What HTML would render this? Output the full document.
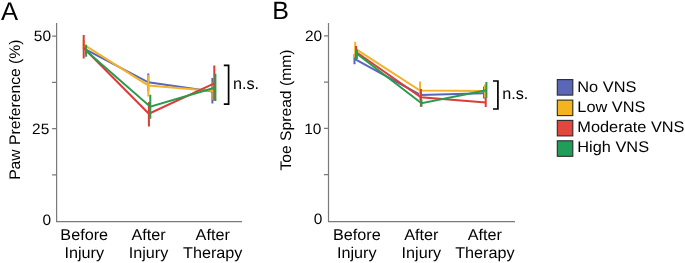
<!DOCTYPE html>
<html><head><meta charset="utf-8">
<style>
html,body{margin:0;padding:0;background:#fff;width:685px;height:263px;overflow:hidden}
svg{display:block;font-family:"Liberation Sans",sans-serif;text-rendering:geometricPrecision}
</style></head><body>
<svg width="685" height="263" viewBox="0 0 685 263">
<g fill="#000" style="will-change:transform">
<text transform="translate(1.1,19.7)" font-size="25.6">A</text>
<text transform="translate(272.3,18.8)" font-size="25">B</text>
<g stroke="#7a7a7a" stroke-width="1.2" fill="none"><path d="M56.6 23 V221.6 H242"/>
<path d="M52.1 36.2 H56.6 M52.1 82.4 H56.6 M52.1 128.6 H56.6 M52.1 174.8 H56.6"/></g>
<text transform="translate(51,41.2) scale(1.03,1)" font-size="15.0" text-anchor="end">50</text>
<text transform="translate(49.3,133.7) scale(1.03,1)" font-size="15.0" text-anchor="end">25</text>
<text transform="translate(51.2,224.6) scale(1.03,1)" font-size="15.0" text-anchor="end">0</text>
<text transform="translate(19.5,109.7) rotate(-90) scale(1.025,1)" font-size="15.3" text-anchor="middle">Paw Preference (%)</text>
<text transform="translate(84.2,239.8) scale(1.032,1)" font-size="15.7" text-anchor="middle">Before</text>
<text transform="translate(84.2,258.0) scale(1.032,1)" font-size="15.7" text-anchor="middle">Injury</text>
<text transform="translate(148.5,239.8) scale(1.032,1)" font-size="15.7" text-anchor="middle">After</text>
<text transform="translate(148.5,258.0) scale(1.032,1)" font-size="15.7" text-anchor="middle">Injury</text>
<text transform="translate(212.7,239.8) scale(1.032,1)" font-size="15.7" text-anchor="middle">After</text>
<text transform="translate(212.7,258.0) scale(1.032,1)" font-size="15.7" text-anchor="middle">Therapy</text>
<g stroke="#7a7a7a" stroke-width="1.2" fill="none"><path d="M328.5 23 V221.6 H515"/>
<path d="M324.0 35.9 H328.5 M324.0 82.2 H328.5 M324.0 128.4 H328.5 M324.0 174.7 H328.5"/></g>
<text transform="translate(322.2,41.4) scale(1.03,1)" font-size="15.0" text-anchor="end">20</text>
<text transform="translate(321.4,134.3) scale(1.03,1)" font-size="15.0" text-anchor="end">10</text>
<text transform="translate(322.3,224.3) scale(1.03,1)" font-size="15.0" text-anchor="end">0</text>
<text transform="translate(290.8,110.05) rotate(-90) scale(1.025,1)" font-size="15.3" text-anchor="middle">Toe Spread (mm)</text>
<text transform="translate(356.8,239.8) scale(1.032,1)" font-size="15.7" text-anchor="middle">Before</text>
<text transform="translate(356.8,258.0) scale(1.032,1)" font-size="15.7" text-anchor="middle">Injury</text>
<text transform="translate(421.4,239.8) scale(1.032,1)" font-size="15.7" text-anchor="middle">After</text>
<text transform="translate(421.4,258.0) scale(1.032,1)" font-size="15.7" text-anchor="middle">Injury</text>
<text transform="translate(484.9,239.8) scale(1.032,1)" font-size="15.7" text-anchor="middle">After</text>
<text transform="translate(484.9,258.0) scale(1.032,1)" font-size="15.7" text-anchor="middle">Therapy</text>
<g stroke="#000" stroke-width="1.7" fill="none"><path d="M223.8 65.4 H228.6 V104.1 H223.8"/><path d="M493 81 H497.9 V109 H493"/></g>
<text transform="translate(232.9,89.1)" font-size="16.2">n.s.</text>
<text transform="translate(502.2,98.6)" font-size="16.2">n.s.</text>
<g stroke="#2a2a2a" stroke-width="1.1">
<rect x="557.3" y="79.6" width="15.5" height="15.5" fill="#5a66b6"/>
<rect x="557.3" y="100.1" width="15.5" height="15.5" fill="#f3b41d"/>
<rect x="557.3" y="120.4" width="15.5" height="15.5" fill="#e1473b"/>
<rect x="557.3" y="140.8" width="15.5" height="15.5" fill="#1e9e58"/>
</g>
<text transform="translate(577.3,91.9) scale(1.062,1)" font-size="15.4">No VNS</text>
<text transform="translate(577.3,112.0) scale(1.062,1)" font-size="15.4">Low VNS</text>
<text transform="translate(577.3,132.1) scale(1.062,1)" font-size="15.4">Moderate VNS</text>
<text transform="translate(577.3,152.3) scale(1.062,1)" font-size="15.4">High VNS</text>
</g>
<g stroke-width="2" fill="none" stroke-linejoin="miter">
<g stroke="#5a66b8"><path d="M86.0 49.6 L148.3 82.3 L212.4 91.5"/><path d="M86.0 45.5 V54 M148.3 73.4 V91.2 M212.4 77.9 V103.6"/></g>
<g stroke="#f2b32a"><path d="M83.7 44.6 L148.3 85.4 L213.4 91"/><path d="M83.7 40 V49 M148.3 75.1 V96.5 M213.4 82 V100"/></g>
<g stroke="#dc3b36"><path d="M83.7 48 L148.9 113.7 L214.3 83.3"/><path d="M83.7 35.1 V58.6 M148.9 102.1 V126.4 M214.3 65.5 V100.8"/></g>
<g stroke="#2a9a4c"><path d="M86.1 50.8 L150.3 106.7 L215.4 87.5"/><path d="M86.1 44.8 V56.7 M150.3 94.8 V118.8 M215.4 73.8 V100.9"/></g>
</g>
<g stroke-width="2" fill="none" stroke-linejoin="miter">
<g stroke="#5a66b8"><path d="M354.5 58.9 L420.5 95 L484 93.2"/><path d="M354.5 54 V64.2 M420.5 90 V100 M484 86.4 V98.4"/></g>
<g stroke="#f2b32a"><path d="M355.2 48.6 L420 90.5 L485 90.9"/><path d="M355.2 41.8 V57.5 M420 81.6 V99.4 M485 84.5 V97.4"/></g>
<g stroke="#dc3b36"><path d="M356.1 52 L420.9 97.2 L485.7 102.4"/><path d="M356.1 45.9 V58.9 M420.9 88.9 V106.8 M485.7 97.5 V107"/></g>
<g stroke="#2a9a4c"><path d="M356.9 53.8 L421.5 103.3 L486.4 90.3"/><path d="M356.9 49.5 V59.1 M421.5 99.5 V106.8 M486.4 82.1 V98"/></g>
</g>
</svg>
</body></html>
